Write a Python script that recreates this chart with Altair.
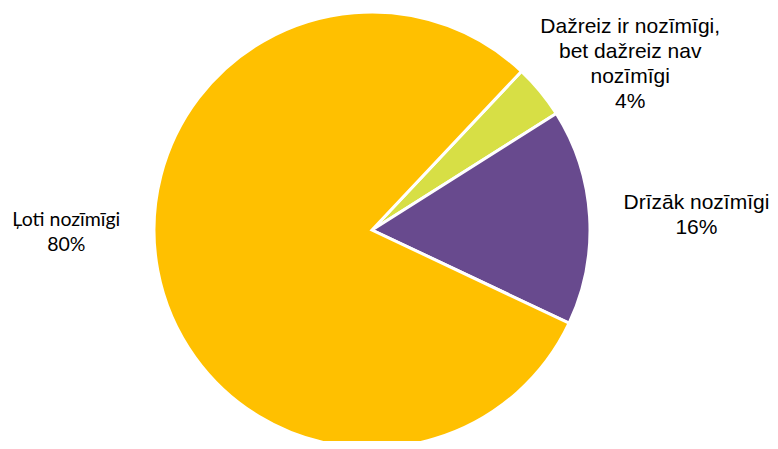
import altair as alt
import pandas as pd
import math

categories = ["Dažreiz ir nozīmīgi,\nbet dažreiz nav\nnozīmīgi", "Drīzāk nozīmīgi", "Ļoti nozīmīgi"]
values = [4, 16, 80]
order = [1, 2, 3]
colors = ["#D7DF45", "#684A8E", "#FFC000"]

df = pd.DataFrame({"category": categories, "value": values, "order": order})

start = math.radians(43.3)
theta_scale = alt.Scale(range=[start, start + 2 * math.pi])

cx = alt.value(364)
cy = alt.value(222)

base = alt.Chart(df).encode(
    theta=alt.Theta("value:Q", stack=True, scale=theta_scale),
    order=alt.Order("order:Q"),
    x=cx,
    y=cy,
)

pie = base.mark_arc(outerRadius=218, stroke="white", strokeWidth=3).encode(
    color=alt.Color("category:N", scale=alt.Scale(domain=categories, range=colors), legend=None)
)


def label_layer(idx, radius, dx, dy, font, size):
    return base.transform_calculate(
        lbl=f"datum.category == {repr(categories[idx])} ? split(datum.category + '\\n' + datum.value + '%', '\\n') : ''"
    ).mark_text(
        radius=radius, dx=dx, dy=dy, font=font, fontSize=size, lineHeight=25,
        align="center", baseline="middle", color="#000000"
    ).encode(text="lbl:N")


labels = [
    label_layer(0, 310, 19, -6, "Liberation Sans", 21),
    label_layer(1, 316, 9, -7.5, "Liberation Sans", 21),
    label_layer(2, 306, -5, -66.5, "Lato", 19.5),
]

chart = alt.layer(pie, *labels).properties(
    width=762, height=433, padding=0, autosize="none"
).configure_view(stroke=None)

chart.save("out.html", embed_options={"renderer": "svg", "actions": False})
